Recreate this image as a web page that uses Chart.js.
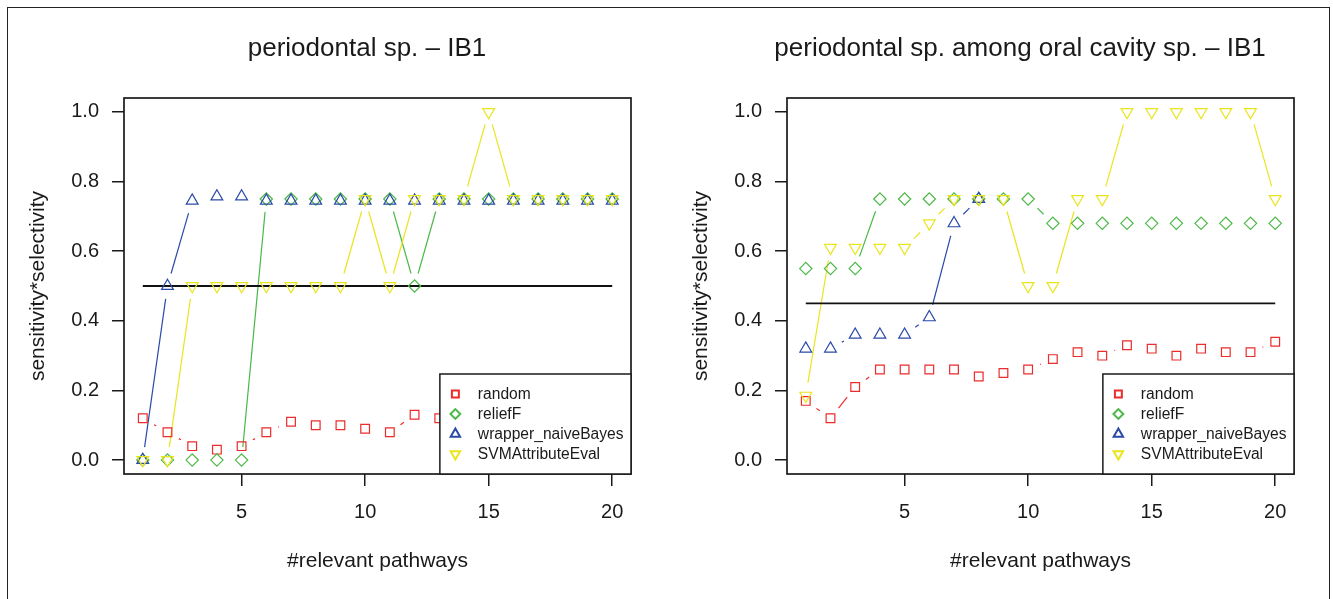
<!DOCTYPE html>
<html>
<head>
<meta charset="utf-8">
<title>sensitivity*selectivity – IB1</title>
<script src="https://cdn.jsdelivr.net/npm/chart.js@4.4.0/dist/chart.umd.min.js"></script>
<style>
  html, body { margin: 0; padding: 0; background: #fff; }
  body { width: 1333px; height: 599px; overflow: hidden; position: relative; }
  .frame {
    position: absolute; left: 7px; top: 7px; width: 1323px; height: 640px;
    border: 1.5px solid #222; box-sizing: border-box;
  }
  canvas { position: absolute; top: 0; }
  #leftChart  { left: 0; }
  #rightChart { left: 660px; }
</style>
</head>
<body>
<div class="frame"></div>
<canvas id="leftChart" width="734" height="599"></canvas>
<canvas id="rightChart" width="720" height="599"></canvas>

<script>
"use strict";

// ── Data ────────────────────────────────────────────────────────────────────
const X_VALUES = [1, 2, 3, 4, 5, 6, 7, 8, 9, 10, 11, 12, 13, 14, 15, 16, 17, 18, 19, 20];
const X_TICKS  = [5, 10, 15, 20];
const Y_TICKS  = [0, 0.2, 0.4, 0.6, 0.8, 1.0];
const SERIES_NAMES = ["random", "reliefF", "wrapper_naiveBayes", "SVMAttributeEval"];
const BASELINE_X = [1, 20];

const LEFT_TITLE    = "periodontal sp. – IB1";
// points 14..20 of "random" sit under the legend box
const LEFT_RANDOM   = [0.12, 0.08, 0.04, 0.03, 0.04, 0.08, 0.11, 0.10, 0.10, 0.09,
                       0.08, 0.13, 0.12, 0.12, 0.13, 0.12, 0.13, 0.14, 0.13, 0.14];
const LEFT_RELIEFF  = [0, 0, 0, 0, 0, 0.75, 0.75, 0.75, 0.75, 0.75,
                       0.75, 0.5, 0.75, 0.75, 0.75, 0.75, 0.75, 0.75, 0.75, 0.75];
const LEFT_WRAPPER  = [0, 0.5, 0.745, 0.757, 0.757, 0.745, 0.745, 0.745, 0.745, 0.745,
                       0.745, 0.745, 0.745, 0.745, 0.745, 0.745, 0.745, 0.745, 0.745, 0.745];
const LEFT_SVM      = [0, 0, 0.5, 0.5, 0.5, 0.5, 0.5, 0.5, 0.5, 0.75,
                       0.5, 0.75, 0.75, 0.75, 1.0, 0.75, 0.75, 0.75, 0.75, 0.75];
const LEFT_BASELINE = [0.5, 0.5];

const RIGHT_TITLE    = "periodontal sp. among oral cavity sp. – IB1";
const RIGHT_RANDOM   = [0.17, 0.12, 0.21, 0.26, 0.26, 0.26, 0.26, 0.24, 0.25, 0.26,
                        0.29, 0.31, 0.30, 0.33, 0.32, 0.30, 0.32, 0.31, 0.31, 0.34];
const RIGHT_RELIEFF  = [0.55, 0.55, 0.55, 0.75, 0.75, 0.75, 0.75, 0.75, 0.75, 0.75,
                        0.68, 0.68, 0.68, 0.68, 0.68, 0.68, 0.68, 0.68, 0.68, 0.68];
const RIGHT_WRAPPER  = [0.32, 0.32, 0.36, 0.36, 0.36, 0.41, 0.68, 0.75, null, null,
                        null, null, null, null, null, null, null, null, null, null];
const RIGHT_SVM      = [0.185, 0.61, 0.61, 0.61, 0.61, 0.68, 0.75, 0.75, 0.75, 0.5,
                        0.5, 0.75, 0.75, 1.0, 1.0, 1.0, 1.0, 1.0, 1.0, 0.75];
const RIGHT_BASELINE = [0.45, 0.45];

// ── Styles ──────────────────────────────────────────────────────────────────
const FONT   = '"Liberation Sans", Arial, Helvetica, sans-serif';
const INK    = "#1a1a1a";
const STYLES = [
  { color: "#ec2b2b", pointStyle: "rect",     radius: 6.15, rotation: 0   },
  { color: "#4cb847", pointStyle: "rectRot",  radius: 6.15, rotation: 0   },
  { color: "#2a4aa8", pointStyle: "triangle", radius: 6.8,  rotation: 0   },
  { color: "#e9e51c", pointStyle: "triangle", radius: 6.8,  rotation: 180 },
];
const LINE_GAP = 13;

Chart.defaults.font.family = FONT;
Chart.defaults.color = INK;

// ── Plugins ─────────────────────────────────────────────────────────────────
// lines between points with a gap round each point (like type = "b")
const gapLines = {
  id: "gapLines",
  beforeDatasetsDraw(chart) {
    const { ctx, chartArea: a } = chart;
    ctx.save();
    ctx.beginPath();
    ctx.rect(a.left, a.top, a.right - a.left, a.bottom - a.top);
    ctx.clip();
    chart.data.datasets.forEach((ds, i) => {
      if (!ds.gap) return;
      const pts = chart.getDatasetMeta(i).data;
      ctx.strokeStyle = ds.borderColor;
      ctx.lineWidth = 1.2;
      for (let k = 0; k < pts.length - 1; k++) {
        const p = pts[k], q = pts[k + 1];
        if (p.skip || q.skip) continue;
        const dx = q.x - p.x, dy = q.y - p.y;
        const len = Math.hypot(dx, dy);
        if (len <= 2 * ds.gap) continue;
        const ux = dx / len, uy = dy / len;
        ctx.beginPath();
        ctx.moveTo(p.x + ux * ds.gap, p.y + uy * ds.gap);
        ctx.lineTo(q.x - ux * ds.gap, q.y - uy * ds.gap);
        ctx.stroke();
      }
    });
    ctx.restore();
  },
};

const plotBox = {
  id: "plotBox",
  afterDatasetsDraw(chart) {
    const { ctx, chartArea: a } = chart;
    ctx.save();
    ctx.strokeStyle = INK;
    ctx.lineWidth = 1.7;
    ctx.strokeRect(a.left, a.top, a.right - a.left, a.bottom - a.top);
    ctx.restore();
  },
};

function symbol(ctx, st, x, y, r) {
  ctx.beginPath();
  if (st.pointStyle === "rect") {
    const s = r * Math.SQRT1_2;
    ctx.rect(x - s, y - s, 2 * s, 2 * s);
  } else if (st.pointStyle === "rectRot") {
    ctx.moveTo(x - r, y); ctx.lineTo(x, y - r); ctx.lineTo(x + r, y); ctx.lineTo(x, y + r);
    ctx.closePath();
  } else {
    let rad = st.rotation * Math.PI / 180;
    for (let k = 0; k < 3; k++) {
      const px = x + Math.sin(rad) * r, py = y - Math.cos(rad) * r;
      k ? ctx.lineTo(px, py) : ctx.moveTo(px, py);
      rad += 2 * Math.PI / 3;
    }
    ctx.closePath();
  }
  ctx.stroke();
}

// boxed legend in the bottom right corner, drawn over the points
const boxLegend = {
  id: "boxLegend",
  afterDatasetsDraw(chart) {
    const { ctx, chartArea: a } = chart;
    ctx.save();
    ctx.font = `15.6px ${FONT}`;
    const textW = Math.max(...SERIES_NAMES.map(n => ctx.measureText(n).width));
    const w = 38 + textW + 7.5, h = 100;
    const x0 = a.right - w, y0 = a.bottom - h;
    ctx.fillStyle = "#fff";
    ctx.fillRect(x0, y0, w, h);
    ctx.strokeStyle = INK;
    ctx.lineWidth = 1.5;
    ctx.strokeRect(x0, y0, w, h);
    SERIES_NAMES.forEach((name, i) => {
      const cy = y0 + 20 * (i + 1);
      const st = STYLES[i];
      ctx.strokeStyle = st.color;
      ctx.lineWidth = 2;
      symbol(ctx, st, x0 + 15.5, cy, st.radius * 0.8);
      ctx.fillStyle = INK;
      ctx.textAlign = "left";
      ctx.textBaseline = "middle";
      ctx.fillText(name, x0 + 38, cy + 1);
    });
    ctx.restore();
  },
};

// ── Panels ──────────────────────────────────────────────────────────────────
function seriesDataset(i, values) {
  const st = STYLES[i];
  return {
    label: SERIES_NAMES[i],
    data: X_VALUES.map((x, k) => ({ x, y: values[k] })),
    showLine: false,
    borderColor: st.color,
    pointStyle: st.pointStyle,
    pointRadius: st.radius,
    pointRotation: st.rotation,
    pointBorderWidth: 1.2,
    pointBackgroundColor: "rgba(0,0,0,0)",
    yAxisID: "y",
    order: 4 - i,
    gap: LINE_GAP,
  };
}

function makePanel(canvasId, title, series, baseline, geo) {
  new Chart(document.getElementById(canvasId), {
    type: "line",
    data: {
      datasets: [
        ...series.map((vals, i) => seriesDataset(i, vals)),
        {
          label: "baseline",
          data: BASELINE_X.map((x, k) => ({ x, y: baseline[k] })),
          showLine: true,
          borderColor: "#111",
          borderWidth: 1.8,
          pointRadius: 0,
          yAxisID: "y",
          order: 5,
        },
      ],
    },
    options: {
      responsive: false,
      animation: false,
      events: [],
      layout: { padding: 0 },
      plugins: {
        legend: { display: false },
        tooltip: { enabled: false },
        title: {
          display: true,
          text: title,
          color: INK,
          font: { size: 26, weight: "normal" },
          padding: { top: 33.4, bottom: 33.4 },
        },
      },
      scales: {
        x: {
          type: "linear",
          min: 0.24,
          max: 20.76,
          afterBuildTicks: s => { s.ticks = X_TICKS.map(v => ({ value: v })); },
          afterFit: s => { s.height = 125; },
          grid: { drawOnChartArea: false, drawTicks: true, tickLength: 12, color: INK, lineWidth: 1.5 },
          border: { display: false },
          ticks: { font: { size: 20 }, color: INK, padding: 14, maxRotation: 0, autoSkip: false,
                   callback: v => String(v) },
          title: { display: true, text: "#relevant pathways", color: INK, font: { size: 21 },
                   padding: { top: 0, bottom: 25.4 } },
        },
        y: {
          type: "linear",
          position: "left",
          min: -0.04,
          max: 1.04,
          afterBuildTicks: s => { s.ticks = Y_TICKS.map(v => ({ value: v })); },
          afterFit: s => { s.width = geo.yWidth; },
          grid: { drawOnChartArea: false, drawTicks: true, tickLength: 12, color: INK, lineWidth: 1.5 },
          border: { display: false },
          ticks: { font: { size: 20 }, color: INK, padding: 13, callback: v => v.toFixed(1) },
          title: { display: true, text: "sensitivity*selectivity", color: INK, font: { size: 21 },
                   padding: { top: geo.yTitlePad, bottom: 0 } },
        },
        yr: {
          type: "linear",
          position: "right",
          display: true,
          afterFit: s => { s.width = geo.rightWidth; },
          grid: { display: false },
          border: { display: false },
          ticks: { display: false },
        },
      },
    },
    plugins: [gapLines, plotBox, boxLegend],
  });
}

makePanel("leftChart", LEFT_TITLE,
  [LEFT_RANDOM, LEFT_RELIEFF, LEFT_WRAPPER, LEFT_SVM], LEFT_BASELINE,
  { yWidth: 124, rightWidth: 103, yTitlePad: 25.4 });

makePanel("rightChart", RIGHT_TITLE,
  [RIGHT_RANDOM, RIGHT_RELIEFF, RIGHT_WRAPPER, RIGHT_SVM], RIGHT_BASELINE,
  { yWidth: 127, rightWidth: 86, yTitlePad: 28.4 });
</script>
</body>
</html>
